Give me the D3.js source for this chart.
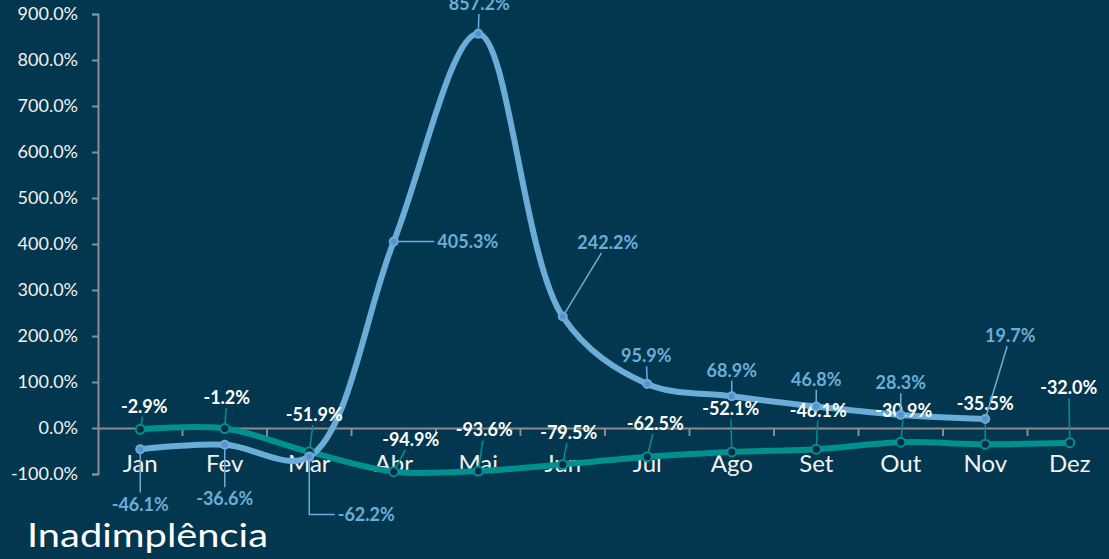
<!DOCTYPE html>
<html>
<head>
<meta charset="utf-8">
<script src="https://cdn.jsdelivr.net/npm/d3@7"></script>
<style>
  body { margin: 0; background: #03374f; }
  svg { display: block; font-family: Lato, "Open Sans", sans-serif; }
</style>
</head>
<body>
<svg id="chart"></svg>
<script>
// data
var months = ["Jan", "Fev", "Mar", "Abr", "Mai", "Jun", "Jul", "Ago", "Set", "Out", "Nov", "Dez"];
var tealValues = [-2.9, -1.2, -51.9, -94.9, -93.6, -79.5, -62.5, -52.1, -46.1, -30.9, -35.5, -32.0];
var blueValues = [-46.1, -36.6, -62.2, 405.3, 857.2, 242.2, 95.9, 68.9, 46.8, 28.3, 19.7, null];
var yTicks = [-100, 0, 100, 200, 300, 400, 500, 600, 700, 800, 900];

// label offsets from their point (pixels)
var tealLabelOffsets = [[4,-23],[2,-31],[5,-37],[17,-32],[6,-41],[6,-32],[8,-33],[-1,-43],[2,-39],[3,-32],[0,-41],[-1,-55]];
var blueLabelOffsets = [[0,55],[0,54],[57,58],[74,0],[1,-30],[45,-74],[-1,-28],[0,-26],[0,-27],[0,-32],[25,-83]];

var W = 1109, H = 559;
var svg = d3.select("#chart").attr("width", W).attr("height", H);
svg.append("rect").attr("width", W).attr("height", H).attr("fill", "#03374f");

var x = d3.scaleBand().domain(months).range([98, 1112]);
var y = d3.scaleLinear().domain([-100, 900]).range([474, 14]);

var tealColor = "#00918f", blueColor = "#6aaed8";
var fmt = function(v) { return v.toFixed(1) + "%"; };

// y axis
var yAxis = svg.append("g").attr("transform", "translate(98,0)")
    .call(d3.axisLeft(y).tickValues(yTicks).tickSize(6).tickFormat(fmt));
yAxis.select(".domain").attr("stroke", "#8c8c8c").attr("stroke-width", 2);
yAxis.selectAll(".tick line").attr("stroke", "#8c8c8c").attr("stroke-width", 2);
yAxis.selectAll(".tick text").attr("fill", "#f2f2f2").attr("font-size", 18)
    .attr("font-family", "Lato, sans-serif").attr("x", -20);

// x axis on the zero line
var xAxis = svg.append("g").attr("transform", "translate(0," + y(0) + ")")
    .call(d3.axisBottom(x).tickSize(0));
xAxis.select(".domain").attr("stroke", "#8c8c8c").attr("stroke-width", 2);
xAxis.selectAll(".tick text").attr("fill", "#f2f2f2").attr("font-size", 24)
    .attr("font-family", "Lato, sans-serif").attr("dy", 0).attr("y", 44);
// tick marks between categories
xAxis.selectAll(".sep").data(months.slice(1)).enter().append("line")
    .attr("x1", function(d) { return x(d); }).attr("x2", function(d) { return x(d); })
    .attr("y1", 0).attr("y2", 8).attr("stroke", "#8c8c8c").attr("stroke-width", 2);

function cx(i) { return x(months[i]) + x.bandwidth() / 2; }

var line = d3.line()
    .defined(function(d) { return d != null; })
    .x(function(d, i) { return cx(i); })
    .y(function(d) { return y(d); })
    .curve(d3.curveCatmullRom.alpha(0.5));

function drawSeries(vals, color, width) {
  svg.append("path").datum(vals).attr("d", line)
    .attr("fill", "none").attr("stroke", color).attr("stroke-width", width)
    .attr("stroke-linecap", "round");
}

function drawLabels(vals, offsets, color, textColor, markerFill, r) {
  var g = svg.append("g");
  vals.forEach(function(v, i) {
    if (v == null) return;
    var px = cx(i), py = y(v);
    var lx = px + offsets[i][0], ly = py + offsets[i][1];
    var t = g.append("text").attr("x", lx).attr("y", ly).attr("dy", "0.35em")
      .attr("text-anchor", "middle").attr("font-weight", "bold").attr("font-size", 18)
      .attr("fill", textColor).text(fmt(v));
    var bb = t.node().getBBox();
    var x0 = bb.x - 3, x1 = bb.x + bb.width + 3, y0 = bb.y, y1 = bb.y + bb.height;
    var hw = bb.width / 2;
    var dx = lx - px, dy = ly - py;
    if (dy > 0 && Math.abs(dx) > hw) {
      // elbow leader
      g.insert("polyline", "text").attr("points", [[px, py], [px, ly], [x0, ly]].join(" "))
        .attr("fill", "none").attr("stroke", color).attr("stroke-width", 1.5);
    } else {
      // straight leader to the box edge
      var tx = dx === 0 ? Infinity : Math.min((px < x0 ? x0 - px : px > x1 ? px - x1 : 0) / Math.abs(dx), 1);
      var ty = dy === 0 ? Infinity : ((py < y0 ? y0 - py : py > y1 ? py - y1 : 0) / Math.abs(dy));
      var tt = Math.max(isFinite(tx) ? tx : 0, isFinite(ty) ? ty : 0);
      var ex = px + dx * tt, ey = py + dy * tt;
      if (Math.hypot(ex - px, ey - py) > 9) {
        g.insert("line", "text").attr("x1", px).attr("y1", py).attr("x2", ex).attr("y2", ey)
          .attr("stroke", color).attr("stroke-width", 1.5);
      }
    }
    svg.append("circle").attr("cx", px).attr("cy", py).attr("r", r)
      .attr("fill", markerFill).attr("stroke", color).attr("stroke-width", 2);
  });
}

drawSeries(tealValues, tealColor, 6);
drawSeries(blueValues, blueColor, 6);
drawLabels(tealValues, tealLabelOffsets, tealColor, "#ffffff", "#0b2a48", 4.5);
drawLabels(blueValues, blueLabelOffsets, blueColor, blueColor, "#5b8fd0", 4);

svg.append("text").attr("x", 27).attr("y", 547).attr("font-size", 32)
  .attr("textLength", 241).attr("lengthAdjust", "spacingAndGlyphs")
  .attr("fill", "#ffffff").attr("font-family", "Lato, sans-serif").text("Inadimplência");
</script>
</body>
</html>
